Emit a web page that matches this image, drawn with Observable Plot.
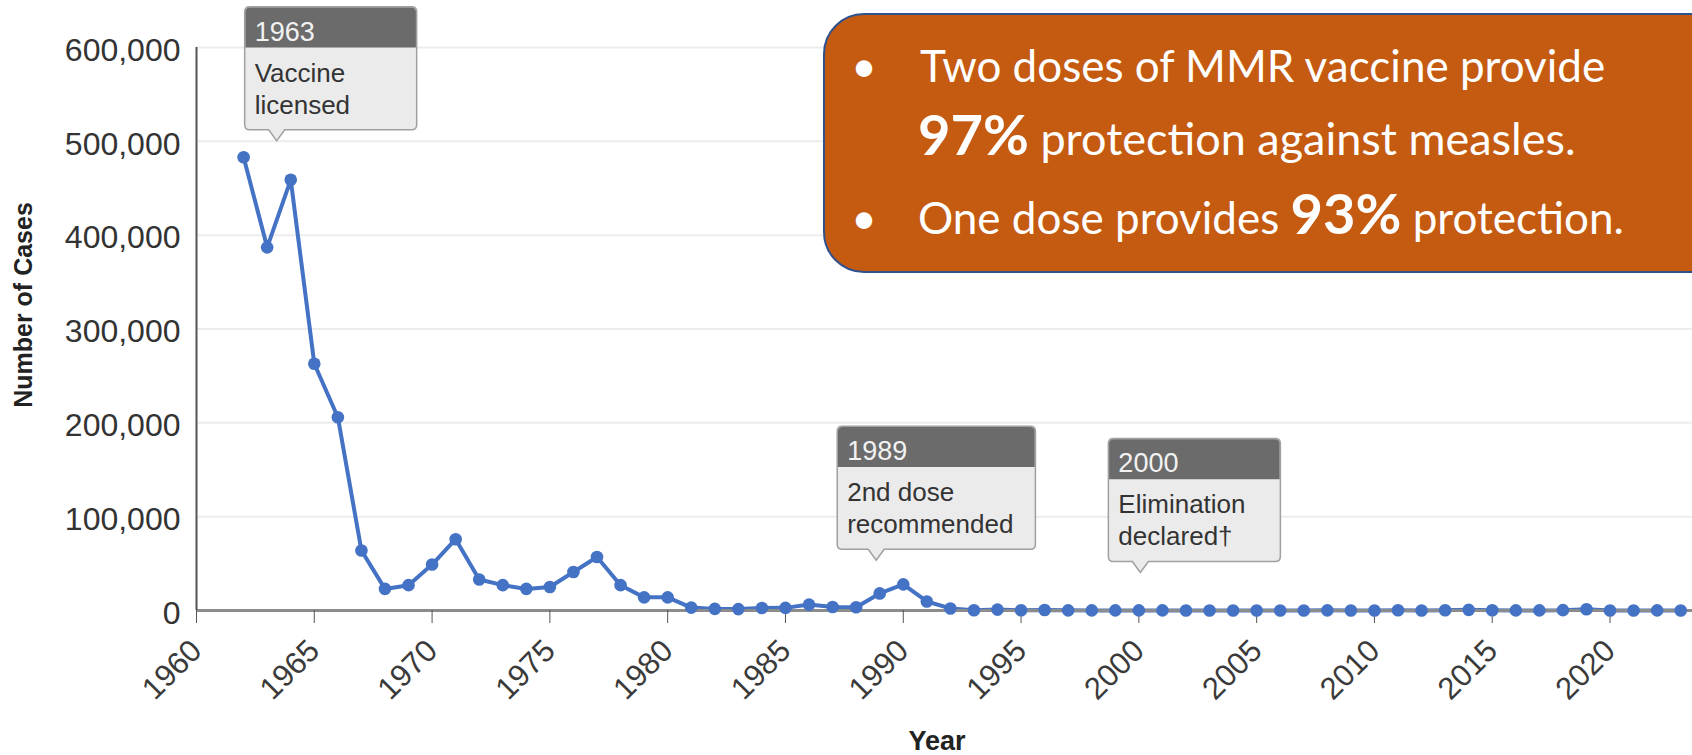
<!DOCTYPE html>
<html><head><meta charset="utf-8">
<script src="https://cdn.jsdelivr.net/npm/d3@7"></script>
<script src="https://cdn.jsdelivr.net/npm/@observablehq/plot@0.6"></script>
<style>
html,body{margin:0;padding:0;background:#fff;}
#chart{position:relative;width:1692px;height:755px;overflow:hidden;}
</style></head><body><div id="chart"></div>
<script>
// ---- data ----
const years = [1962,1963,1964,1965,1966,1967,1968,1969,1970,1971,1972,1973,1974,1975,1976,1977,1978,1979,1980,
  1981,1982,1983,1984,1985,1986,1987,1988,1989,1990,1991,1992,1993,1994,1995,1996,1997,1998,1999,2000,
  2001,2002,2003,2004,2005,2006,2007,2008,2009,2010,2011,2012,2013,2014,2015,2016,2017,2018,2019,2020,2021,2022,2023];
const cases = [483000,387000,459000,263000,206000,64000,23000,27000,49000,76000,33000,27000,23000,25000,41000,57000,27000,14000,14000,
  3100,1700,1500,2600,2800,6300,3700,3400,18200,27800,9600,2200,300,960,310,510,140,100,100,86,
  116,44,56,37,66,55,43,140,71,63,220,55,187,667,188,86,120,375,1274,13,49,121,59];
const xTicks = [1960,1965,1970,1975,1980,1985,1990,1995,2000,2005,2010,2015,2020];
const yTicks = [0,100000,200000,300000,400000,500000,600000];
const xLabel = "Year";
const yLabel = "Number of Cases";

const annYears = [1963, 1989, 2000];
const annAnchors = [500000, 53000, 40000];
const annTitles = ["1963", "1989", "2000"];
const annLines = [["Vaccine", "licensed"], ["2nd dose", "recommended"], ["Elimination", "declared\u2020"]];

const calloutLine1 = "Two doses of MMR vaccine provide";
const calloutLine2 = [["97%", true], [" protection against measles.", false]];
const calloutLine3 = [["One dose provides ", false], ["93%", true], [" protection.", false]];

const data = years.map((y, i) => ({year: y, cases: cases[i]}));

// ---- style / layout ----
const BLUE = "#4472C4";
const FONT = "'Liberation Sans', Arial, Helvetica, sans-serif";
const annPointerNudge = [10, -3, 2];   // px nudges of the pointer tips
const annBoxInset = [32, 39, 32];      // px from box left edge to pointer

const chart = Plot.plot({
  width: 1692, height: 755,
  marginLeft: 196, marginRight: 0, marginTop: 47, marginBottom: 145,
  style: {fontFamily: FONT, background: "white", overflow: "visible"},
  x: {domain: [1960, 2023.5]},
  y: {domain: [0, 600000]},
  marks: [
    Plot.gridY(yTicks.filter(d => d > 0), {stroke: "#ececec", strokeOpacity: 1, strokeWidth: 2}),
    Plot.axisY(yTicks, {tickSize: 0, tickPadding: 16, fontSize: 32, tickFormat: d3.format(","), label: null, color: "#333", dy: 3}),
    Plot.line(data, {x: "year", y: "cases", stroke: BLUE, strokeWidth: 4}),
    Plot.ruleY([0], {stroke: "#8c8c8c", strokeWidth: 3}),
    Plot.ruleX([1960], {y1: 0, y2: 600000, stroke: "#555", strokeWidth: 2}),
    Plot.axisX(xTicks, {tickSize: 13, tickFormat: () => "", label: null, color: "#555"}),
    Plot.text(xTicks, {x: d => d, y: 0, text: d => String(d), rotate: -45, textAnchor: "end", lineAnchor: "middle",
      dy: 35, fontSize: 31, fill: "#3a3a3a"}),
    Plot.dot(data, {x: "year", y: "cases", r: 6.3, fill: BLUE})
  ]
});
document.getElementById("chart").appendChild(chart);

const xs = chart.scale("x"), ys = chart.scale("y");
const svg = d3.select(chart);

// axis titles
svg.append("text").attr("transform", "translate(32,305) rotate(-90)")
  .attr("text-anchor", "middle").attr("font-family", FONT).attr("font-weight", "bold")
  .attr("font-size", 25).attr("fill", "#222").text(yLabel);
svg.append("text").attr("x", 937).attr("y", 750)
  .attr("text-anchor", "middle").attr("font-family", FONT).attr("font-weight", "bold")
  .attr("font-size", 27).attr("fill", "#222").text(xLabel);

// annotations
function boxPath(x, y, w, h, r, px, tipY, half) {
  const b = y + h;
  return `M${x+r},${y}H${x+w-r}Q${x+w},${y} ${x+w},${y+r}V${b-r}Q${x+w},${b} ${x+w-r},${b}H${px+half}L${px},${tipY}L${px-half},${b}H${x+r}Q${x},${b} ${x},${b-r}V${y+r}Q${x},${y} ${x+r},${y}Z`;
}
function headPath(x, y, w, hh, r) {
  return `M${x+r},${y}H${x+w-r}Q${x+w},${y} ${x+w},${y+r}V${y+hh}H${x}V${y+r}Q${x},${y} ${x+r},${y}Z`;
}
annYears.forEach((yr, i) => {
  const px = xs.apply(yr) + annPointerNudge[i], tipY = ys.apply(annAnchors[i]);
  const bottom = tipY - 11, h = 123, top = bottom - h, left = px - annBoxInset[i];
  const g = svg.append("g").attr("text-anchor", "start");
  const bodyP = g.append("path");
  const headP = g.append("path");
  g.append("text").attr("x", left + 10).attr("y", top + 34)
    .attr("font-family", FONT).attr("font-size", 27).attr("fill", "#f2f2f2").text(annTitles[i]);
  let maxW = 0;
  annLines[i].forEach((ln, j) => {
    const t = g.append("text").attr("x", left + 10).attr("y", top + 75 + j * 32)
      .attr("font-family", FONT).attr("font-size", 26).attr("fill", "#333").text(ln);
    maxW = Math.max(maxW, t.node().getComputedTextLength());
  });
  const w = Math.max(172, maxW + 32);
  bodyP.attr("d", boxPath(left, top, w, h, 5, px, tipY, 8)).attr("fill", "#ebebeb").attr("stroke", "#a0a0a0").attr("stroke-width", 1.5);
  headP.attr("d", headPath(left + 0.75, top + 0.75, w - 1.5, 40, 4.5)).attr("fill", "#6b6b6b");
});

// orange callout
const cg = svg.append("g").attr("font-family", "Lato, 'Open Sans', sans-serif").attr("fill", "#fff").attr("text-anchor", "start");
cg.append("rect").attr("x", 824).attr("y", 14).attr("width", 1000).attr("height", 258).attr("rx", 40)
  .attr("fill", "#C55A11").attr("stroke", "#2F528F").attr("stroke-width", 2);
const bullet = (y) => cg.append("text").attr("x", 864).attr("y", y).attr("text-anchor", "middle").attr("font-size", 44).attr("fill", "#fff").text("\u2022");
bullet(82); bullet(234);
cg.append("text").attr("x", 920).attr("y", 82).attr("font-size", 44).attr("fill", "#fff").text(calloutLine1);
function mixed(y, parts, size) {
  const t = cg.append("text").attr("x", 918).attr("y", y).attr("fill", "#fff").attr("xml:space", "preserve");
  parts.forEach(([s, b]) => t.append("tspan").attr("font-size", b ? 56 : size).attr("font-weight", b ? "bold" : "normal").text(s));
}
mixed(155, calloutLine2, 45);
mixed(234, calloutLine3, 44);
</script></body></html>
